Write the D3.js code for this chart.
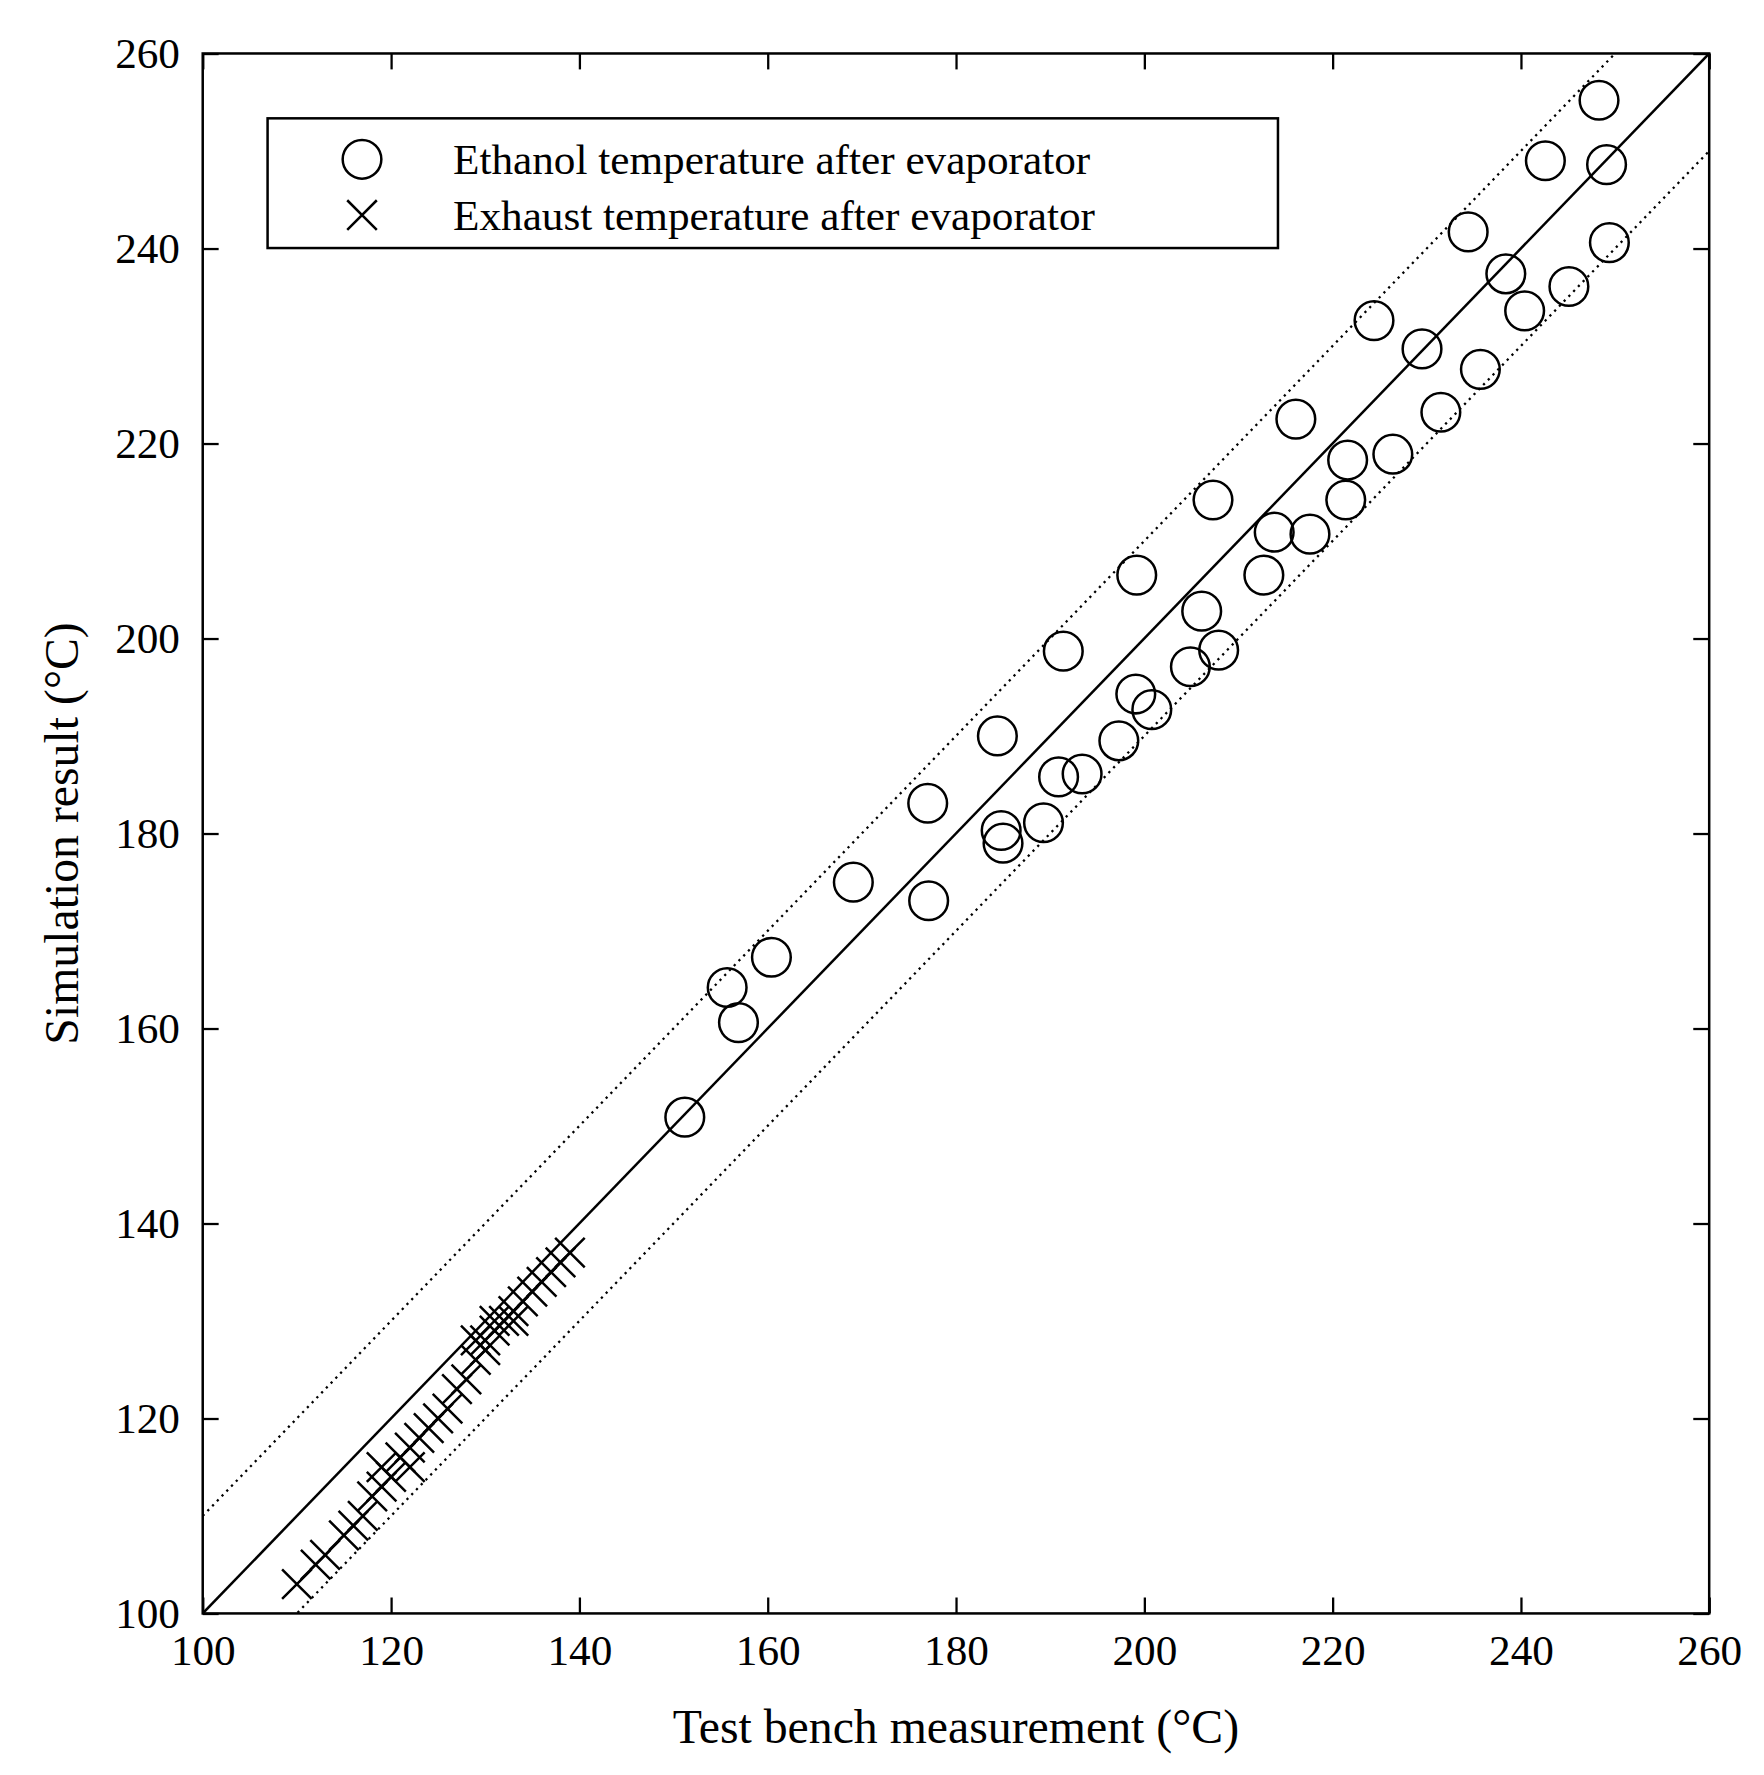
<!DOCTYPE html>
<html><head><meta charset="utf-8">
<script src="https://cdn.jsdelivr.net/npm/d3@7"></script>
<style>body{margin:0;background:#fff}text{font-family:"Liberation Serif","DejaVu Serif",serif;fill:#000}</style>
</head><body>
<svg id="c" width="1764" height="1775" viewBox="0 0 1550 1560"></svg>
<script>
var ethanolX = [248.3,242.6,249.1,234.4,249.4,238.4,245.1,240.4,224.4,229.5,235.7,231.5,216.1,226.4,221.6,207.3,221.4,213.8,217.6,212.7,199.2,206.1,204.9,191.4,207.9,199.1,200.8,184.4,197.3,190.9,193.4,177.0,184.8,185.0,189.3,169.1,177.1,160.4,155.7,156.9,151.2];
var ethanolY = [255.2,249.0,248.6,241.7,240.6,237.4,236.1,233.6,232.6,229.7,227.6,223.2,222.5,218.9,218.3,214.2,214.2,210.9,210.7,206.5,206.5,202.8,197.1,198.7,198.8,194.3,192.7,190.0,189.5,185.8,186.1,183.1,180.3,179.0,181.1,175.0,173.1,167.3,164.2,160.6,150.9];
var exhaustX = [110,112,113,115,116,117,118,119,119,120,121,122,122,123,124,125,126,127,128,129,130,130,131,132,133,133,134,135,136,137,138,139,129,131];
var exhaustY = [103,105,106,108,109,110,112,113,115,114,116,117,115,118,119,120,121,123,124,126,127,128,129,130,131,130,132,133,134,135,136,137,128,130];
var ticks = [100,120,140,160,180,200,220,240,260];
var legendLabels = ["Ethanol temperature after evaporator","Exhaust temperature after evaporator"];

var L=178,T=47,R=1502,B=1418;
var svg=d3.select("#c");
var x=d3.scaleLinear().domain([100,260]).range([L,R]);
var y=d3.scaleLinear().domain([100,260]).range([B,T]);
svg.append("clipPath").attr("id","cl").append("rect").attr("x",L).attr("y",T).attr("width",R-L).attr("height",B-T);
var g=svg.append("g").attr("clip-path","url(#cl)");

// reference lines y=x and +/-10
[[0,null],[10,"2,4"],[-10,"2,4"]].forEach(function(o){
  g.append("line").attr("x1",x(100)).attr("y1",y(100+o[0])).attr("x2",x(260)).attr("y2",y(260+o[0]))
   .attr("stroke","#000").attr("stroke-width",o[1]?2:2.2).attr("stroke-dasharray",o[1]);
});

ethanolX.forEach(function(v,i){
  g.append("circle").attr("cx",x(v)).attr("cy",y(ethanolY[i])).attr("r",17).attr("fill","none").attr("stroke","#000").attr("stroke-width",2.2);
});
function cross(sel,cx,cy){
  var s=13;
  sel.append("path").attr("d","M"+(cx-s)+","+(cy-s)+"L"+(cx+s)+","+(cy+s)+"M"+(cx-s)+","+(cy+s)+"L"+(cx+s)+","+(cy-s))
    .attr("stroke","#000").attr("stroke-width",2.2).attr("fill","none");
}
exhaustX.forEach(function(v,i){ cross(g,x(v),y(exhaustY[i])); });

// axes with inward ticks on all sides
var tl=14;
svg.append("g").attr("transform","translate(0,"+B+")").call(d3.axisBottom(x).tickValues(ticks).tickSizeInner(-tl).tickSizeOuter(0).tickPadding(18));
svg.append("g").attr("transform","translate(0,"+T+")").call(d3.axisTop(x).tickValues(ticks).tickSizeInner(-tl).tickSizeOuter(0).tickFormat(""));
svg.append("g").attr("transform","translate("+L+",0)").call(d3.axisLeft(y).tickValues(ticks).tickSizeInner(-tl).tickSizeOuter(0).tickPadding(20));
svg.append("g").attr("transform","translate("+R+",0)").call(d3.axisRight(y).tickValues(ticks).tickSizeInner(-tl).tickSizeOuter(0).tickFormat(""));
svg.selectAll(".tick line").attr("stroke-width",2);
svg.selectAll(".domain").remove();
svg.selectAll(".tick text").style("font-size","38px").style("font-family","Liberation Serif, serif");
svg.append("rect").attr("x",L).attr("y",T).attr("width",R-L).attr("height",B-T).attr("fill","none").attr("stroke","#000").attr("stroke-width",2.2);

svg.append("text").attr("x",(L+R)/2).attr("y",1532).attr("text-anchor","middle").style("font-size","42px").text("Test bench measurement (°C)");
svg.append("text").attr("transform","translate(68,"+((T+B)/2)+") rotate(-90)").attr("text-anchor","middle").style("font-size","42px").text("Simulation result (°C)");

// legend
var lg=svg.append("g");
lg.append("rect").attr("x",235).attr("y",104).attr("width",888).attr("height",114).attr("fill","#fff").attr("stroke","#000").attr("stroke-width",2.2);
lg.append("circle").attr("cx",318).attr("cy",140).attr("r",17).attr("fill","none").attr("stroke","#000").attr("stroke-width",2.2);
cross(lg,318,189);
legendLabels.forEach(function(t,i){
  lg.append("text").attr("x",398).attr("y",153+i*49).style("font-size","38px").text(t);
});
</script>
</body></html>
